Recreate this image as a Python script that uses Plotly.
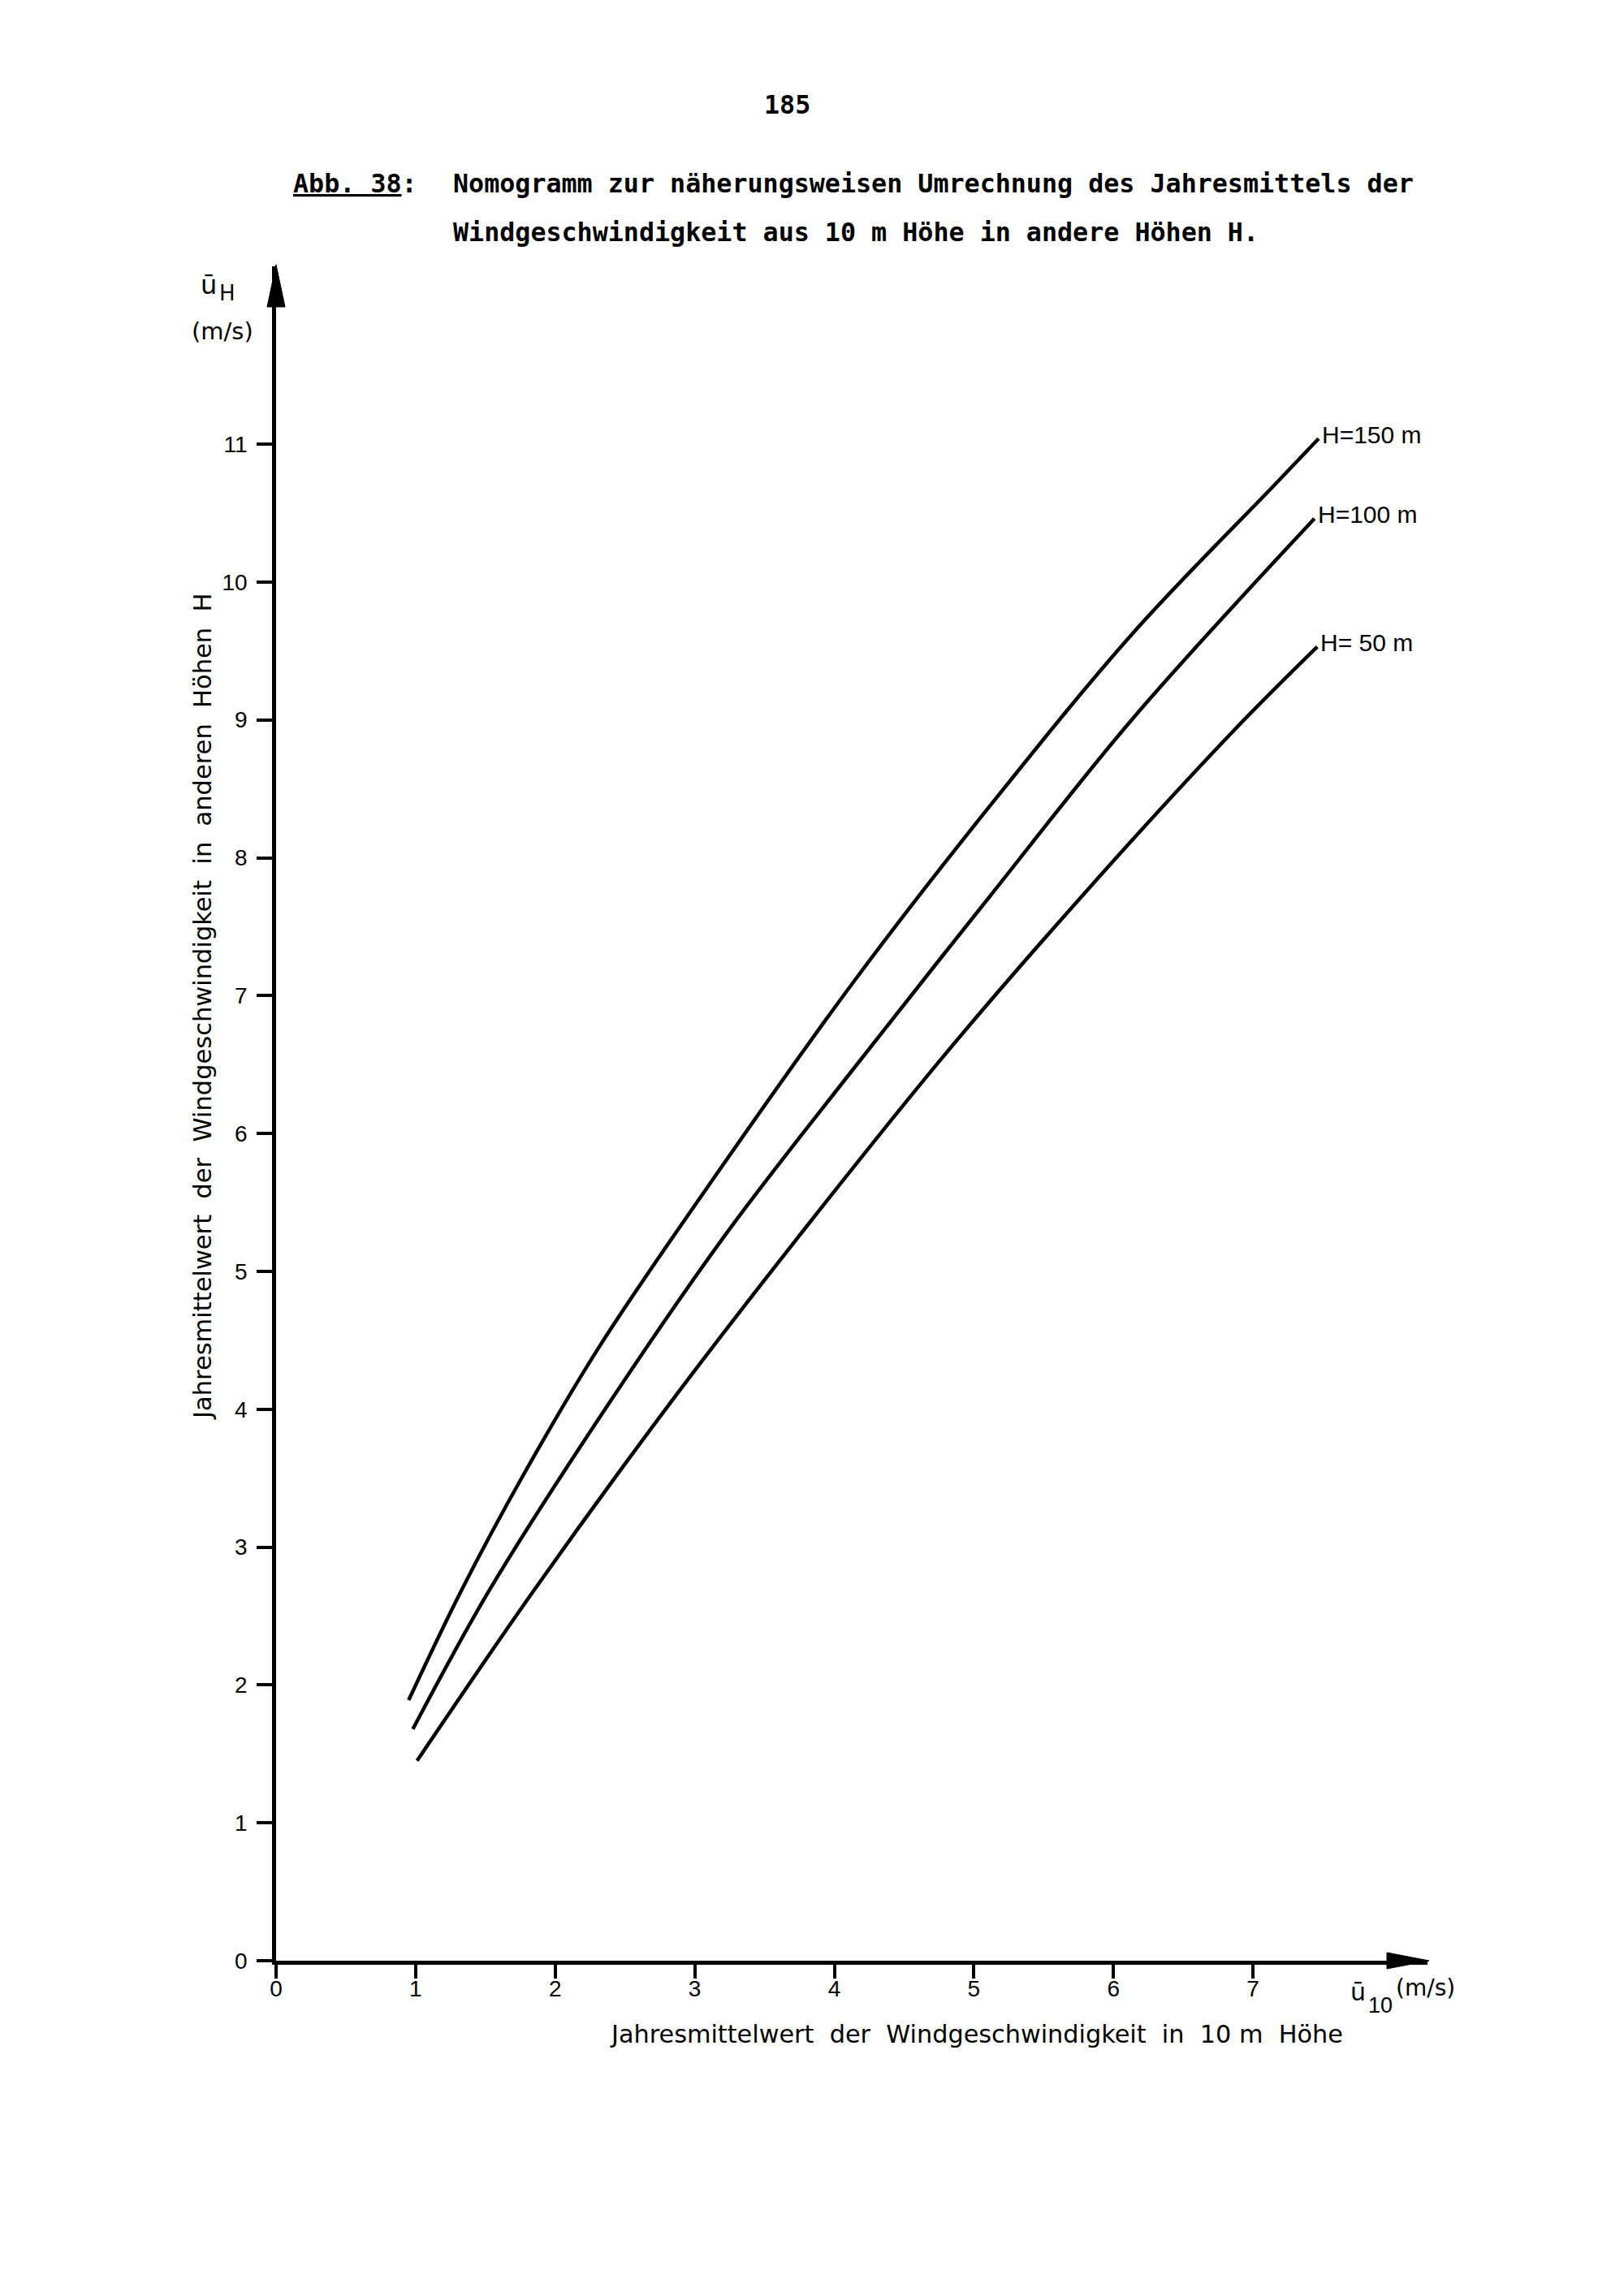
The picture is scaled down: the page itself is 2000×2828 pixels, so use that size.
import plotly.graph_objects as go

# ---- data ----
x_150 = [0.95, 1.33, 1.77, 2.32, 3.18, 4.16, 5.11, 6.14, 7.15, 7.47]
y_150 = [1.89, 2.69, 3.52, 4.46, 5.74, 7.13, 8.37, 9.63, 10.70, 11.04]

x_100 = [0.98, 1.53, 2.39, 3.23, 4.13, 5.13, 6.13, 7.44]
y_100 = [1.68, 2.69, 4.05, 5.28, 6.46, 7.74, 9.00, 10.46]

x_50 = [1.01, 1.85, 2.85, 3.82, 4.79, 5.79, 6.85, 7.46]
y_50 = [1.45, 2.69, 4.08, 5.35, 6.57, 7.74, 8.91, 9.53]

series_labels = ["H=150 m", "H=100 m", "H= 50 m"]
x_ticks = [0, 1, 2, 3, 4, 5, 6, 7]
y_ticks = [0, 1, 2, 3, 4, 5, 6, 7, 8, 9, 10, 11]

# ---- page geometry (pixels) ----
W, H = 2000, 2828
L, R, T, B = 332, 1750, 320, 2407


def px(x):
    return (x - L) / (R - L)


def py(y):
    return (B - y) / (B - T)


fig = go.Figure()
for xs, ys in [(x_150, y_150), (x_100, y_100), (x_50, y_50)]:
    fig.add_trace(go.Scatter(x=xs, y=ys, mode="lines",
                             line=dict(color="black", width=4.5, shape="spline", smoothing=1.0),
                             hoverinfo="skip"))

tickfont = dict(family="Liberation Sans", size=28, color="black")
fig.update_xaxes(range=[0, 8.25], tickvals=x_ticks, ticktext=[str(v) for v in x_ticks],
                 showline=True, linecolor="black", linewidth=4.5, ticks="outside",
                 ticklen=17, tickwidth=4, tickcolor="black", showgrid=False, zeroline=False,
                 tickfont=tickfont, ticklabelstandoff=-11)
fig.update_yaxes(range=[0, 12.29], tickvals=y_ticks, ticktext=[str(v) for v in y_ticks],
                 showline=True, linecolor="black", linewidth=4.5, ticks="outside",
                 ticklen=19, tickwidth=4, tickcolor="black", showgrid=False, zeroline=False,
                 tickfont=tickfont, ticklabelstandoff=6)

ann = []
# line-end labels
for xs, ys, lab in [(x_150, y_150, series_labels[0]), (x_100, y_100, series_labels[1]),
                    (x_50, y_50, series_labels[2])]:
    ann.append(dict(x=xs[-1], y=ys[-1], xref="x", yref="y", text=lab, showarrow=False,
                    xanchor="left", yanchor="middle", xshift=2, yshift=5,
                    font=dict(family="Liberation Sans", size=30, color="black")))

mono = dict(family="DejaVu Sans Mono", size=31.7, color="black", weight="bold")
ann.append(dict(x=px(961), y=py(121), xref="paper", yref="paper", text="185",
                showarrow=False, xanchor="center", yanchor="middle", font=mono))
ann.append(dict(x=px(351), y=py(218), xref="paper", yref="paper", text="<u>Abb. 38</u>:",
                showarrow=False, xanchor="left", yanchor="middle", font=mono))
ann.append(dict(x=px(548), y=py(218), xref="paper", yref="paper",
                text="Nomogramm zur näherungsweisen Umrechnung des Jahresmittels der",
                showarrow=False, xanchor="left", yanchor="middle", font=mono))
ann.append(dict(x=px(548), y=py(278), xref="paper", yref="paper",
                text="Windgeschwindigkeit aus 10 m Höhe in andere Höhen H.",
                showarrow=False, xanchor="left", yanchor="middle", font=mono))

nb = "\u00a0\u00a0"
ann.append(dict(x=px(1194), y=py(2497), xref="paper", yref="paper",
                text=f"Jahresmittelwert{nb}der{nb}Windgeschwindigkeit{nb}in{nb}10\u00a0m{nb}Höhe",
                showarrow=False, xanchor="center", yanchor="middle",
                font=dict(family="DejaVu Sans", size=30.3, color="black")))
ann.append(dict(x=px(241), y=py(1232), xref="paper", yref="paper", textangle=-90,
                text=f"Jahresmittelwert{nb}der{nb}Windgeschwindigkeit{nb}in{nb}anderen{nb}Höhen{nb}H",
                showarrow=False, xanchor="center", yanchor="middle",
                font=dict(family="DejaVu Sans", size=30.5, color="black")))

# y unit label
ann.append(dict(x=px(249), y=py(343), xref="paper", yref="paper", text="ū",
                showarrow=False, xanchor="center", yanchor="middle",
                font=dict(family="DejaVu Sans", size=32, color="black")))
ann.append(dict(x=px(272), y=py(353), xref="paper", yref="paper", text="H",
                showarrow=False, xanchor="center", yanchor="middle",
                font=dict(family="DejaVu Sans", size=26, color="black")))
ann.append(dict(x=px(266), y=py(400), xref="paper", yref="paper", text="(m/s)",
                showarrow=False, xanchor="center", yanchor="middle",
                font=dict(family="DejaVu Sans", size=29, color="black")))
# x unit label
ann.append(dict(x=px(1664), y=py(2445), xref="paper", yref="paper", text="ū",
                showarrow=False, xanchor="center", yanchor="middle",
                font=dict(family="DejaVu Sans", size=30, color="black")))
ann.append(dict(x=px(1692), y=py(2462), xref="paper", yref="paper", text="10",
                showarrow=False, xanchor="center", yanchor="middle",
                font=dict(family="Liberation Sans", size=27, color="black")))
ann.append(dict(x=px(1747), y=py(2440), xref="paper", yref="paper", text="(m/s)",
                showarrow=False, xanchor="center", yanchor="middle",
                font=dict(family="DejaVu Sans", size=28, color="black")))

shapes = [
    # y-axis arrowhead
    dict(type="path", xref="paper", yref="paper", line=dict(color="black", width=1),
         fillcolor="black",
         path=f"M {px(332)},{py(318)} L {px(321)},{py(370)} L {px(343)},{py(370)} Z"),
    # x-axis arrowhead
    dict(type="path", xref="paper", yref="paper", line=dict(color="black", width=1),
         fillcolor="black",
         path=f"M {px(1752)},{py(2407)} L {px(1700)},{py(2397)} L {px(1700)},{py(2417)} Z"),
]

fig.update_layout(width=W, height=H, margin=dict(l=L, r=W - R, t=T, b=H - B, pad=0),
                  plot_bgcolor="white", paper_bgcolor="white", showlegend=False,
                  annotations=ann, shapes=shapes)

fig.write_html("out.html")
